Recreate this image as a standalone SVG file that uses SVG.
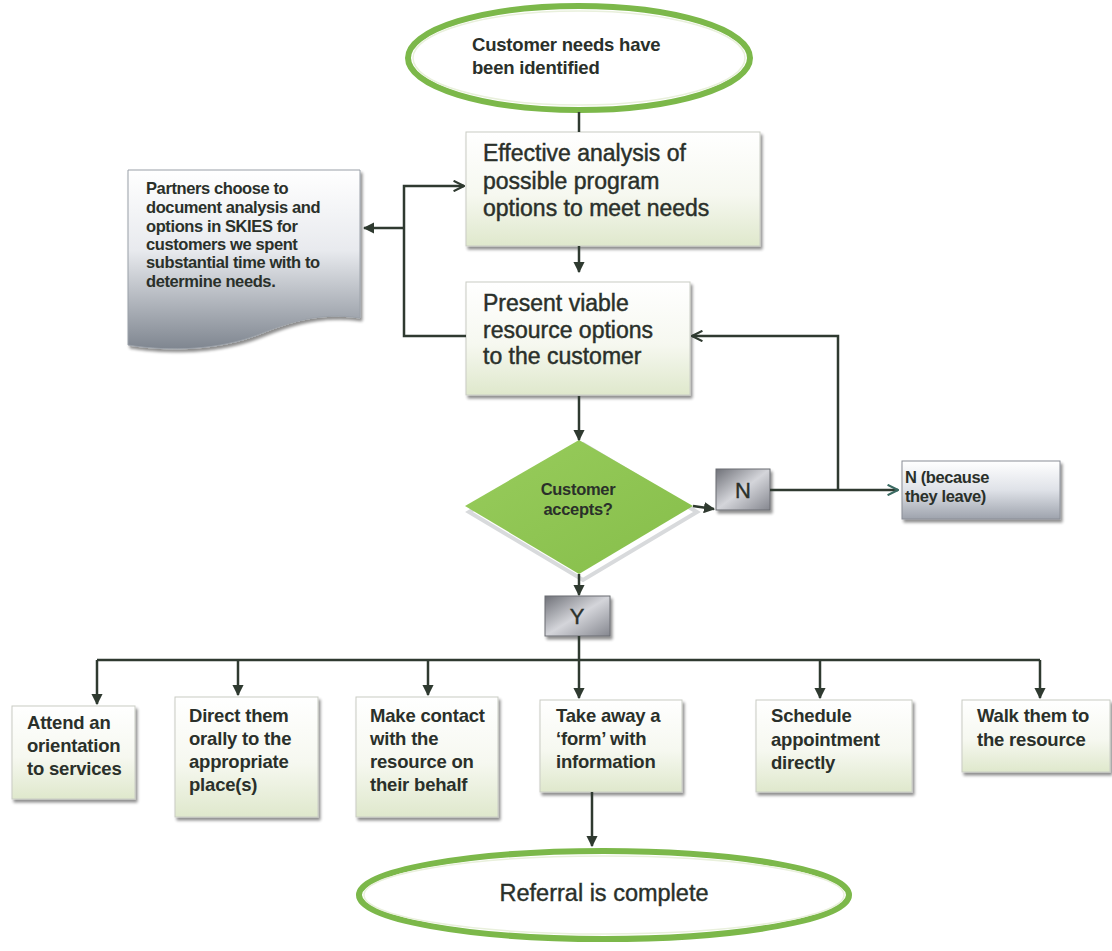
<svg xmlns="http://www.w3.org/2000/svg" width="1112" height="951" viewBox="0 0 1112 951">
<defs>
<linearGradient id="gBox" x1="0" y1="0" x2="0" y2="1">
<stop offset="0" stop-color="#ffffff"/>
<stop offset="0.55" stop-color="#f6f8f0"/>
<stop offset="1" stop-color="#dfe8cc"/>
</linearGradient>
<linearGradient id="gDoc" x1="0" y1="0" x2="0" y2="1">
<stop offset="0" stop-color="#ffffff"/>
<stop offset="0.45" stop-color="#e8eaee"/>
<stop offset="1" stop-color="#7f8690"/>
</linearGradient>
<linearGradient id="gGray" x1="0" y1="0" x2="1" y2="1">
<stop offset="0" stop-color="#6f7178"/>
<stop offset="0.5" stop-color="#d4d5da"/>
<stop offset="1" stop-color="#85878f"/>
</linearGradient>
<linearGradient id="gLeave" x1="0" y1="0" x2="0" y2="1">
<stop offset="0" stop-color="#ffffff"/>
<stop offset="0.5" stop-color="#dfe2e8"/>
<stop offset="1" stop-color="#9ea3ad"/>
</linearGradient>
<linearGradient id="gDia" x1="0" y1="0" x2="1" y2="1">
<stop offset="0" stop-color="#98cc5c"/>
<stop offset="1" stop-color="#86be4a"/>
</linearGradient>
<marker id="aF" viewBox="0 0 10 10" refX="9" refY="5" markerWidth="4.5" markerHeight="4.5" orient="auto">
<path d="M0,0 L10,5 L0,10 Z" fill="#2f3a30"/>
</marker>
<marker id="aO" viewBox="0 0 12 12" refX="11" refY="6" markerWidth="5" markerHeight="5" orient="auto">
<path d="M1,1 L11,6 L1,11" fill="none" stroke="#2f3a30" stroke-width="2"/>
</marker>
<marker id="aT" viewBox="0 0 12 12" refX="11" refY="6" markerWidth="5" markerHeight="5" orient="auto">
<path d="M1,1 L11,6 L1,11" fill="none" stroke="#3a6a62" stroke-width="2"/>
</marker>
<filter id="sh" x="-10%" y="-10%" width="130%" height="130%">
<feGaussianBlur in="SourceAlpha" stdDeviation="1.5"/>
<feOffset dx="2" dy="3"/>
<feComponentTransfer><feFuncA type="linear" slope="0.45"/></feComponentTransfer>
<feMerge><feMergeNode/><feMergeNode in="SourceGraphic"/></feMerge>
</filter>
</defs>
<style>
.t{font-family:"Liberation Sans",Arial,sans-serif;fill:#2a302a}
.big{font-size:23px;stroke:#2a302a;stroke-width:0.45}
.med{font-size:18.5px;font-weight:bold;letter-spacing:-0.2px}
.sm{font-size:16.5px;font-weight:bold;letter-spacing:-0.4px}
.box{fill:url(#gBox);stroke:#c9ccc4;stroke-width:1;filter:url(#sh)}
.gray{fill:url(#gGray);stroke:#6a6c72;stroke-width:1;filter:url(#sh)}
.ell{fill:#ffffff;stroke:#7cb84a;stroke-width:6}
.ellin{fill:none;stroke:#e9f0dc;stroke-width:1.5}
.ln{fill:none;stroke:#2f3a30;stroke-width:2.5}
</style>
<rect width="1112" height="951" fill="#ffffff"/>

<g id="start">
<ellipse class="ell" cx="579" cy="58" rx="171" ry="52"/>
<ellipse class="ellin" cx="579" cy="58" rx="166" ry="47"/>
<text class="t med" x="472" y="51">Customer needs have</text>
<text class="t med" x="472" y="74">been identified</text>
</g>

<g id="analysis">
<rect class="box" x="466" y="132" width="294" height="114"/>
<text class="t big" x="483" y="161">Effective analysis of</text>
<text class="t big" x="483" y="189">possible  program</text>
<text class="t big" x="483" y="216">options  to meet needs</text>
</g>

<g id="document">
<path d="M128,170 H360 V318 C320,312 290,322 260,334 C220,350 170,352 128,345 Z" fill="url(#gDoc)" stroke="#9aa0a8" stroke-width="1" filter="url(#sh)"/>
<text class="t sm" x="146" y="194">Partners choose to</text>
<text class="t sm" x="146" y="213">document analysis and</text>
<text class="t sm" x="146" y="232">options in SKIES  for</text>
<text class="t sm" x="146" y="250">customers we spent</text>
<text class="t sm" x="146" y="268">substantial time with to</text>
<text class="t sm" x="146" y="287">determine needs.</text>
</g>

<g id="present">
<rect class="box" x="466" y="282" width="224" height="113"/>
<text class="t big" x="483" y="311">Present viable</text>
<text class="t big" x="483" y="338">resource options</text>
<text class="t big" x="483" y="364">to the customer</text>
</g>

<g id="decision">
<path d="M583,444 L697,512 L583,580 L469,512 Z" fill="none" stroke="#d8dadc" stroke-width="4"/>
<path d="M579,440 L693,506 L579,574 L465,506 Z" fill="url(#gDia)"/>
<text class="t" x="578" y="495" text-anchor="middle" font-size="16.5" font-weight="bold" letter-spacing="-0.3" fill="#2c3a20">Customer</text>
<text class="t" x="578" y="515" text-anchor="middle" font-size="16.5" font-weight="bold" letter-spacing="-0.3" fill="#2c3a20">accepts?</text>
</g>

<g id="nlabel">
<rect class="gray" x="716" y="469" width="54" height="41"/>
<text class="t" x="743" y="498" text-anchor="middle" font-size="22" stroke="#2a302a" stroke-width="0.4">N</text>
</g>

<g id="leave">
<rect x="902" y="461" width="158" height="58" fill="url(#gLeave)" stroke="#8a8e96" stroke-width="1" filter="url(#sh)"/>
<text class="t sm" x="905" y="483" font-size="18">N (because</text>
<text class="t sm" x="905" y="502" font-size="18">they leave)</text>
</g>

<g id="ylabel">
<rect class="gray" x="545" y="596" width="65" height="40"/>
<text class="t" x="577" y="624" text-anchor="middle" font-size="22" stroke="#2a302a" stroke-width="0.4">Y</text>
</g>

<g id="opt1">
<rect class="box" x="12" y="706" width="123" height="93"/>
<text class="t med" x="27" y="729">Attend an</text>
<text class="t med" x="27" y="752">orientation</text>
<text class="t med" x="27" y="775">to services</text>
</g>
<g id="opt2">
<rect class="box" x="175" y="697" width="143" height="120"/>
<text class="t med" x="189" y="722">Direct them</text>
<text class="t med" x="189" y="745">orally to the</text>
<text class="t med" x="189" y="768">appropriate</text>
<text class="t med" x="189" y="791">place(s)</text>
</g>
<g id="opt3">
<rect class="box" x="356" y="697" width="142" height="120"/>
<text class="t med" x="370" y="722">Make contact</text>
<text class="t med" x="370" y="745">with the</text>
<text class="t med" x="370" y="768">resource on</text>
<text class="t med" x="370" y="791">their behalf</text>
</g>
<g id="opt4">
<rect class="box" x="540" y="700" width="142" height="92"/>
<text class="t med" x="556" y="722">Take away a</text>
<text class="t med" x="556" y="745">‘form’ with</text>
<text class="t med" x="556" y="768">information</text>
</g>
<g id="opt5">
<rect class="box" x="756" y="700" width="156" height="92"/>
<text class="t med" x="771" y="722">Schedule</text>
<text class="t med" x="771" y="746">appointment</text>
<text class="t med" x="771" y="769">directly</text>
</g>
<g id="opt6">
<rect class="box" x="962" y="700" width="148" height="72"/>
<text class="t med" x="977" y="722">Walk them to</text>
<text class="t med" x="977" y="746">the resource</text>
</g>

<g id="end">
<ellipse class="ell" cx="604" cy="895" rx="245" ry="44"/>
<ellipse class="ellin" cx="604" cy="895" rx="240" ry="39"/>
<text class="t" x="604" y="901" text-anchor="middle" font-size="23.5" stroke="#2a302a" stroke-width="0.4">Referral is complete</text>
</g>

<g id="connectors">
<path class="ln" d="M579,112 V132"/>
<path class="ln" d="M579,246 V272" marker-end="url(#aF)"/>
<path class="ln" d="M466,336 H404 V186 H464" marker-end="url(#aO)"/>
<path class="ln" d="M404,228 H364" marker-end="url(#aF)"/>
<path class="ln" d="M579,396 V440" marker-end="url(#aF)"/>
<path class="ln" d="M693,506 L714,509" marker-end="url(#aF)"/>
<path class="ln" d="M770,490 H838"/>
<path class="ln" d="M838,490 H898" marker-end="url(#aT)"/>
<path class="ln" d="M838,490 V336 H692" marker-end="url(#aO)"/>
<path class="ln" d="M579,574 V595" marker-end="url(#aF)"/>
<path class="ln" d="M579,636 V660"/>
<path class="ln" d="M97,660 H1040"/>
<path class="ln" d="M97,660 V704" marker-end="url(#aF)"/>
<path class="ln" d="M238,660 V695" marker-end="url(#aF)"/>
<path class="ln" d="M428,660 V695" marker-end="url(#aF)"/>
<path class="ln" d="M579,660 V698" marker-end="url(#aF)"/>
<path class="ln" d="M820,660 V698" marker-end="url(#aF)"/>
<path class="ln" d="M1040,660 V698" marker-end="url(#aF)"/>
<path class="ln" d="M592,792 V846" marker-end="url(#aF)"/>
</g>
</svg>
